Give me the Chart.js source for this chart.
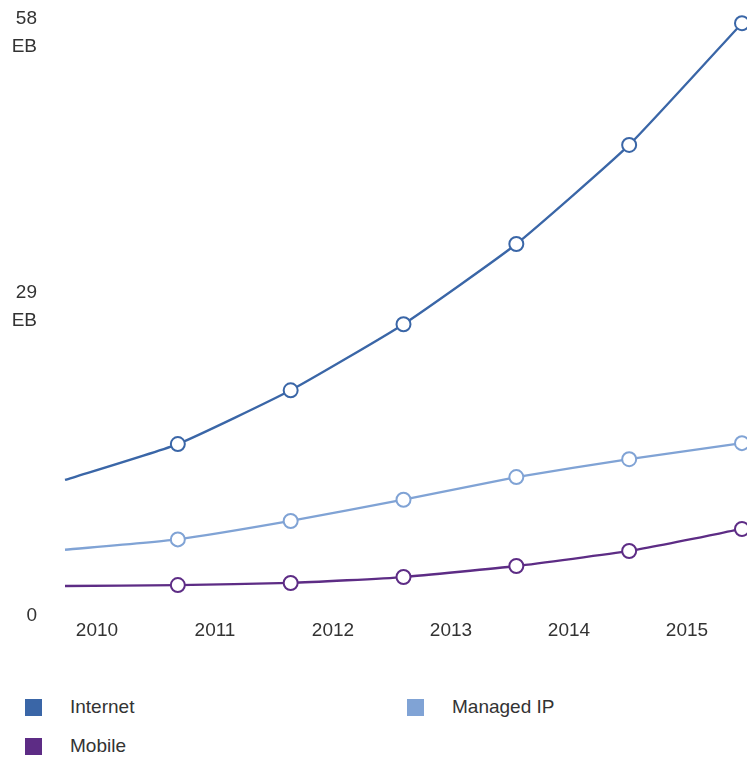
<!DOCTYPE html>
<html><head><meta charset="utf-8">
<script src="https://cdn.jsdelivr.net/npm/chart.js@4/dist/chart.umd.min.js"></script>
<style>
html,body{margin:0;padding:0;background:#fff;width:747px;height:757px;overflow:hidden;font-family:"Liberation Sans",Arial,sans-serif;}
#wrap{position:relative;width:747px;height:757px;}
#c{position:absolute;left:0;top:0;}
.lg{position:absolute;display:flex;align-items:center;font-size:19px;color:#333;height:22px;white-space:nowrap;}
.lg .b{display:inline-block;width:17px;height:17px;margin-right:28px;}
</style></head>
<body>
<div id="wrap"><canvas id="c" width="747" height="660"></canvas><div id="legend"></div></div>
<script>
// Data (exabytes); first point is the unlabeled start of the lines
const years = [2009, 2010, 2011, 2012, 2013, 2014, 2015];
const yearLabels = ['2010', '2011', '2012', '2013', '2014', '2015'];
const internet = [11.4, 15.2, 20.9, 27.9, 36.4, 46.9, 59.8];
const managedIP = [4.0, 5.1, 7.05, 9.3, 11.7, 13.6, 15.3];
const mobile = [0.16, 0.26, 0.48, 1.11, 2.28, 3.87, 6.2];
const yTicks = [0, 29, 58];
const unit = 'EB';
const seriesNames = ['Internet', 'Managed IP', 'Mobile'];
const seriesColors = ['#3a66a7', '#80a3d5', '#5d2c85'];

const seriesValues = [internet, managedIP, mobile];
const datasets = seriesValues.map((vals, i) => ({
  label: seriesNames[i],
  data: vals.map((v, k) => ({x: years[k], y: v})),
  borderColor: seriesColors[i],
  backgroundColor: '#ffffff',
  borderWidth: 2.3,
  tension: 0.15,
  pointRadius: ctx => ctx.dataIndex === 0 ? 0 : 7,
  pointBorderWidth: 2,
  pointBackgroundColor: '#ffffff',
  pointBorderColor: seriesColors[i],
  clip: false
}));

const font = {family: '"Liberation Sans", Arial, sans-serif', size: 19};

new Chart(document.getElementById('c'), {
  type: 'line',
  data: {datasets},
  options: {
    responsive: false,
    animation: false,
    devicePixelRatio: 1,
    layout: {autoPadding: false, padding: {top: 10, right: 1, bottom: 0, left: 0}},
    plugins: {legend: {display: false}, tooltip: {enabled: false}},
    events: [],
    scales: {
      x: {
        type: 'linear', display: false,
        min: 2008.7607, max: 2015.0355
      },
      yr: {
        type: 'category', position: 'bottom', labels: yearLabels, offset: true,
        grid: {display: false, drawTicks: false}, border: {display: false},
        ticks: {color: '#333', font: font, padding: 32, maxRotation: 0, autoSkip: false},
        afterFit: s => { s.height = 72.5; s.paddingLeft = 0; s.paddingRight = 0; }
      },
      y: {
        type: 'linear', position: 'left', min: 0, max: 61.2,
        grid: {display: false, drawTicks: false}, border: {display: false},
        afterBuildTicks: s => { s.ticks = yTicks.map(v => ({value: v})); },
        ticks: {
          color: '#333', padding: 1,
          font: Object.assign({}, font, {lineHeight: '14px'}),
          callback: v => v === 0 ? ['', '', '', '', String(v)] : [String(v), '', unit, '']
        },
        afterFit: s => { s.width = 38; s.paddingTop = 0; s.paddingBottom = 0; }
      }
    }
  }
});

// HTML legend built from series names/colors
const legendPos = [[25, 696], [407, 696], [25, 735]];
const lg = document.getElementById('legend');
seriesNames.forEach((n, i) => {
  const d = document.createElement('div');
  d.className = 'lg';
  d.style.left = legendPos[i][0] + 'px';
  d.style.top = legendPos[i][1] + 'px';
  d.innerHTML = '<span class="b" style="background:' + seriesColors[i] + '"></span><span>' + n + '</span>';
  lg.appendChild(d);
});
</script>
</body></html>
